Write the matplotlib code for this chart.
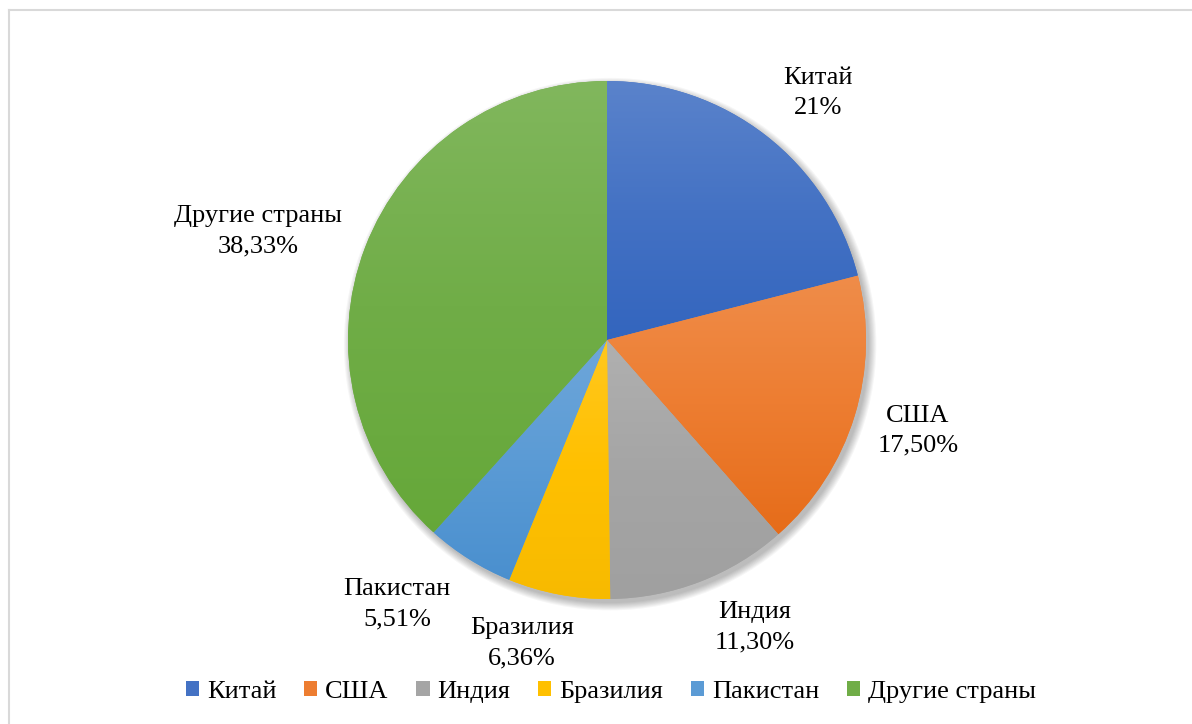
import numpy as np
import matplotlib
matplotlib.use("Agg")
import matplotlib.pyplot as plt
from matplotlib.patches import Patch, Circle
from matplotlib.colors import to_rgb, rgb_to_hsv, hsv_to_rgb
from matplotlib.lines import Line2D

categories = ["Китай", "США", "Индия", "Бразилия", "Пакистан", "Другие страны"]
values = [21.0, 17.50, 11.30, 6.36, 5.51, 38.33]
value_labels = ["21%", "17,50%", "11,30%", "6,36%", "5,51%", "38,33%"]
colors = ["#4472C4", "#ED7D31", "#A5A5A5", "#FFC000", "#5B9BD5", "#70AD47"]

# label positions in radius units (layout)
label_pos = [(0.815, 0.954), (1.20, -0.35), (0.571, -1.108),
             (-0.328, -1.17), (-0.81, -1.02), (-1.347, 0.42)]

plt.rcParams['font.family'] = ['Liberation Serif', 'DejaVu Serif']

W, H = 1192, 724
cx, cy, R = 607, 340, 259
fig = plt.figure(figsize=(W / 100, H / 100), dpi=100)
ax = fig.add_axes([0, 0, 1, 1])
ax.axis('off')

# soft shadow
for i in range(8):
    sh = Circle((0.012, -0.016), 1.0 + 0.004 * i, color='black',
                alpha=0.035, lw=0, zorder=0)
    ax.add_patch(sh)

wedges, _ = ax.pie(values, colors=colors, startangle=90, counterclock=False,
                   radius=1.0, center=(0, 0), frame=False,
                   wedgeprops=dict(linewidth=0))

for w, c in zip(wedges, colors):
    base = np.array(to_rgb(c))
    top = base + 0.12 * (1 - base)
    hsv = rgb_to_hsv(base)
    hsv[1] = min(1.0, hsv[1] * 1.12)
    hsv[2] = hsv[2] * 0.97
    bottom = hsv_to_rgb(hsv)
    ext = w.get_path().get_extents(w.get_patch_transform())
    x0, y0, x1, y1 = ext.x0, ext.y0, ext.x1, ext.y1
    t = np.linspace(0, 1, 256)[:, None]
    grad = np.where(t < 0.5, top[None, :] * (1 - 2 * t) + base[None, :] * (2 * t),
                    base[None, :] * (2 - 2 * t) + bottom[None, :] * (2 * t - 1))
    img = np.clip(grad, 0, 1)[:, None, :]
    im = ax.imshow(img, extent=(x0, x1, y0, y1), origin='upper',
                   aspect='auto', zorder=2, interpolation='bilinear')
    im.set_clip_path(w)

ax.set_xlim(-cx / R, (W - cx) / R)
ax.set_ylim((cy - H) / R, cy / R)
ax.set_aspect('auto')

for cat, vl, (lx, ly) in zip(categories, value_labels, label_pos):
    ax.text(lx, ly, f"{cat}\n{vl}", ha='center', va='center', fontsize=19,
            color='black', linespacing=1.48, zorder=5)

handles = [Patch(facecolor=c, edgecolor='none') for c in colors]
fig.legend(handles, categories, loc='center', bbox_to_anchor=(611 / W, 1 - 692 / H),
           ncol=6, frameon=False, fontsize=19, handlelength=0.5,
           handleheight=0.5, handletextpad=0.3, columnspacing=1.05,
           borderpad=0)

# border (top and left)
fig.add_artist(Line2D([9 / W, 1], [1 - 10 / H, 1 - 10 / H], color='#D9D9D9', lw=1.5))
fig.add_artist(Line2D([9 / W, 9 / W], [0, 1 - 10 / H], color='#D9D9D9', lw=1.5))

fig.savefig("out.png", dpi=100, facecolor='white')
